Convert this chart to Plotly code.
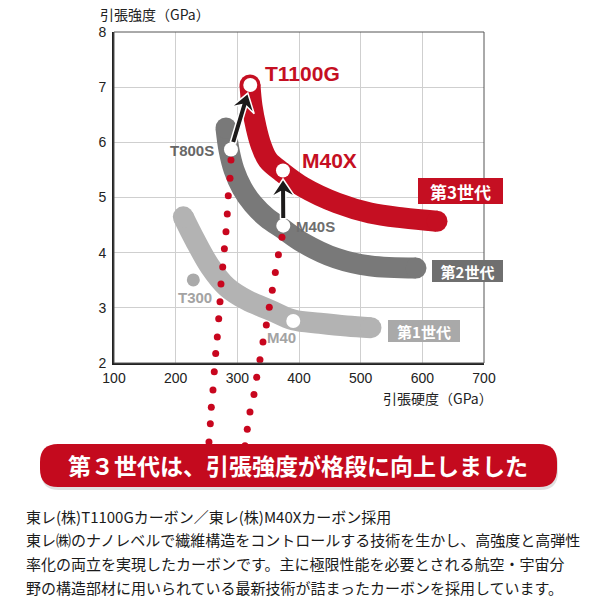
import math
import plotly.graph_objects as go

# ---------------- data ----------------
x_ticks = [100, 200, 300, 400, 500, 600, 700]
y_ticks = [2, 3, 4, 5, 6, 7, 8]

# generation bands (tensile modulus GPa, tensile strength GPa)
gen1_modulus = [212.4, 231.3, 255.7, 282.7, 315.2, 353.0, 390.7, 433.8, 477.3, 516.7]
gen1_strength = [4.65, 4.23, 3.75, 3.38, 3.14, 2.96, 2.78, 2.72, 2.67, 2.64]
gen2_modulus = [281.6, 286.5, 294.6, 307.6, 325.4, 348.1, 374.0, 406.5, 460.0, 515.1, 589.7]
gen2_strength = [6.26, 5.86, 5.50, 5.17, 4.88, 4.63, 4.43, 4.18, 3.90, 3.76, 3.72]
gen3_modulus = [320.5, 323.8, 330.3, 338.4, 349.7, 372.4, 406.5, 461.6, 515.1, 568.6, 623.8]
gen3_strength = [7.04, 6.66, 6.28, 5.95, 5.68, 5.46, 5.19, 4.90, 4.72, 4.63, 4.57]

gen_labels = ["第1世代", "第2世代", "第3世代"]

# fibres
fiber_names = ["T1100G", "M40X", "T800S", "M40S", "M40"]
fiber_modulus = [321.0, 374.0, 289.7, 374.5, 390.7]
fiber_strength = [7.04, 5.49, 5.87, 4.49, 2.76]
t300_modulus = [228.6]
t300_strength = [3.505]

# red dotted drop lines (continue below the chart, behind the banner)
drop1_modulus = [289.7, 288.1, 285.3, 283.7, 281.6, 279.0, 276.3, 273.5, 271.9, 269.8,
                 267.5, 264.9, 262.6, 260.5, 257.8, 256.2, 254.0]
drop1_strength = [5.68, 5.35, 5.03, 4.70, 4.38, 4.07, 3.74, 3.43, 3.11, 2.80,
                  2.47, 2.17, 1.84, 1.51, 1.20, 0.90, 0.57]
drop2_modulus = [372.4, 366.6, 361.6, 356.7, 351.8, 347.0, 341.6, 336.7, 331.4, 327.0,
                 320.5, 316.1, 312.4]
drop2_strength = [4.28, 3.96, 3.64, 3.32, 3.01, 2.69, 2.38, 2.06, 1.74, 1.43,
                  1.11, 0.80, 0.50]

banner_text = "第３世代は、引張強度が格段に向上しました"
body_lines = [
    "東レ(株)T1100Gカーボン／東レ(株)M40Xカーボン採用",
    "東レ㈱のナノレベルで繊維構造をコントロールする技術を生かし、高強度と高弾性",
    "率化の両立を実現したカーボンです。主に極限性能を必要とされる航空・宇宙分",
    "野の構造部材に用いられている最新技術が詰まったカーボンを採用しています。",
]

# ---------------- styling ----------------
RED = "#c50f22"
GRAY2 = "#797979"
GRAY1 = "#b3b3b3"
CJK = "Noto Sans CJK JP"
LAT = "Liberation Sans, Arial, sans-serif"

W = H = 600
ML, MR, MT = 114, 116, 32
AX_BOTTOM = 363          # pixel row of the x axis (strength = 2)
FULL_BOTTOM = 450        # bottom of the full plotting area (dots continue there)
MB = H - FULL_BOTTOM
PW = W - ML - MR
PH_MAIN = AX_BOTTOM - MT
PH_FULL = FULL_BOTTOM - MT
X0, X1, Y0, Y1 = 100, 700, 2, 8
Y_FULL_LOW = Y1 - (Y1 - Y0) * PH_FULL / PH_MAIN


def to_px(x, y):
    return ML + (x - X0) / (X1 - X0) * PW, MT + (Y1 - y) / (Y1 - Y0) * PH_MAIN


def to_paper(px, py):
    return (px - ML) / PW, (FULL_BOTTOM - py) / PH_FULL


BAND_W = 21

fig = go.Figure()

for xs, ys, col in [(gen1_modulus, gen1_strength, GRAY1),
                    (gen2_modulus, gen2_strength, GRAY2),
                    (gen3_modulus, gen3_strength, RED)]:
    fig.add_trace(go.Scatter(x=xs, y=ys, mode="lines",
                             line=dict(color=col, width=BAND_W, shape="spline", smoothing=1.0),
                             hoverinfo="skip"))
    fig.add_trace(go.Scatter(x=[xs[0], xs[-1]], y=[ys[0], ys[-1]], mode="markers",
                             marker=dict(color=col, size=BAND_W, line=dict(width=0)),
                             hoverinfo="skip"))

for xs, ys in [(drop1_modulus, drop1_strength), (drop2_modulus, drop2_strength)]:
    fig.add_trace(go.Scatter(x=xs, y=ys, mode="markers", xaxis="x2", yaxis="y2",
                             cliponaxis=False,
                             marker=dict(color="#c8061e", size=7, line=dict(width=0)),
                             hoverinfo="skip"))

fig.add_trace(go.Scatter(x=t300_modulus, y=t300_strength, mode="markers",
                         marker=dict(color="#aaaaaa", size=13, line=dict(width=0))))
fig.add_trace(go.Scatter(x=fiber_modulus, y=fiber_strength, mode="markers",
                         xaxis="x2", yaxis="y2",
                         marker=dict(color="white", size=14, line=dict(width=0))))

shapes = []
# plot frame (thin top / right border)
shapes.append(dict(type="rect", xref="x domain", yref="y domain", x0=0, y0=0, x1=1, y1=1,
                   line=dict(color="#555555", width=1), layer="above"))


def arrow_path(p_from, p_to, gap0, gap1, shaft=5.5, hl=18, hw=24, notch=5):
    ax, ay = to_px(*p_from)
    bx, by = to_px(*p_to)
    dx, dy = bx - ax, by - ay
    L = math.hypot(dx, dy)
    ux, uy = dx / L, dy / L
    nx, ny = -uy, ux
    tx, ty = ax + ux * gap0, ay + uy * gap0
    qx, qy = bx - ux * gap1, by - uy * gap1
    hbx, hby = qx - ux * hl, qy - uy * hl
    ncx, ncy = qx - ux * (hl - notch), qy - uy * (hl - notch)
    pts = [(tx + nx * shaft / 2, ty + ny * shaft / 2),
           (ncx + nx * shaft / 2, ncy + ny * shaft / 2),
           (hbx + nx * hw / 2, hby + ny * hw / 2),
           (qx, qy),
           (hbx - nx * hw / 2, hby - ny * hw / 2),
           (ncx - nx * shaft / 2, ncy - ny * shaft / 2),
           (tx - nx * shaft / 2, ty - ny * shaft / 2)]
    conv = [to_paper(*p) for p in pts]
    return "M " + " L ".join(f"{x:.5f},{y:.5f}" for x, y in conv) + " Z"


idx = {n: i for i, n in enumerate(fiber_names)}
for a, b in [("T800S", "T1100G"), ("M40S", "M40X")]:
    pa_ = (fiber_modulus[idx[a]], fiber_strength[idx[a]])
    pb_ = (fiber_modulus[idx[b]], fiber_strength[idx[b]])
    shapes.append(dict(type="path", path=arrow_path(pa_, pb_, 7, 8.5), xref="paper", yref="paper",
                       fillcolor="#1c1a1a", line=dict(color="white", width=1.5), layer="above"))


def rounded_rect(x0, y0, x1, y1, r):
    def P(px, py):
        X, Y = to_paper(px, py)
        return f"{X:.5f},{Y:.5f}"
    return (f"M {P(x0 + r, y0)} L {P(x1 - r, y0)} Q {P(x1, y0)} {P(x1, y0 + r)} "
            f"L {P(x1, y1 - r)} Q {P(x1, y1)} {P(x1 - r, y1)} L {P(x0 + r, y1)} "
            f"Q {P(x0, y1)} {P(x0, y1 - r)} L {P(x0, y0 + r)} Q {P(x0, y0)} {P(x0 + r, y0)} Z")


shapes.append(dict(type="path", path=rounded_rect(41, 446, 558, 490, 18), xref="paper", yref="paper",
                   fillcolor="rgba(0,0,0,0.12)", line=dict(width=0), layer="above"))
shapes.append(dict(type="path", path=rounded_rect(40, 444, 557, 487, 18), xref="paper", yref="paper",
                   fillcolor="#c40a1e", line=dict(width=0), layer="above"))

ann = []


def add_label(text, px, py, color, size, anchor="center"):
    X, Y = to_paper(px, py)
    ann.append(dict(text=f"<b>{text}</b>", x=X, y=Y, xref="paper", yref="paper", showarrow=False,
                    xanchor=anchor, yanchor="middle", font=dict(family=LAT, size=size, color=color)))


add_label(fiber_names[0], 302, 74, RED, 21)
add_label(fiber_names[1], 329, 160, RED, 21)
add_label(fiber_names[2], 216, 150, "#676767", 15, "right")
add_label(fiber_names[3], 294, 226, "#6e6e6e", 15, "left")
add_label("T300", 194.5, 297, "#a3a3a3", 15)
add_label(fiber_names[4], 281, 337.5, "#a3a3a3", 15)

# generation boxes
for text, (x0, y0, x1, y1), col, fs in [
        (gen_labels[2], (418, 178, 503, 204), RED, 17),
        (gen_labels[1], (432, 260, 503, 282), "#6f6f6f", 15),
        (gen_labels[0], (388, 320, 460, 342), "#a9a9a9", 15)]:
    X, Y = to_paper((x0 + x1) / 2, (y0 + y1) / 2)
    ann.append(dict(text=f"<b>{text}</b>", x=X, y=Y, xref="paper", yref="paper", showarrow=False,
                    xanchor="center", yanchor="middle", bgcolor=col, width=x1 - x0 - 2,
                    height=y1 - y0 - 2, borderpad=0, borderwidth=1, bordercolor=col,
                    font=dict(family=CJK, size=fs, color="white")))

# axis titles
X, Y = to_paper(98, 14)
ann.append(dict(text="引張強度（GPa）", x=X, y=Y, xref="paper", yref="paper", showarrow=False,
                xanchor="left", yanchor="middle", font=dict(family=CJK, size=14, color="#222")))
X, Y = to_paper(495, 398)
ann.append(dict(text="引張硬度（GPa）", x=X, y=Y, xref="paper", yref="paper", showarrow=False,
                xanchor="right", yanchor="middle", font=dict(family=CJK, size=14, color="#222")))

# banner text
X, Y = to_paper(298, 465)
ann.append(dict(text=f"<b>{banner_text}</b>", x=X, y=Y, xref="paper", yref="paper", showarrow=False,
                xanchor="center", yanchor="middle", font=dict(family=CJK, size=23, color="white")))

# body text
for i, line in enumerate(body_lines):
    X, Y = to_paper(24, 516 + i * 23.7)
    ann.append(dict(text=line, x=X, y=Y, xref="paper", yref="paper", showarrow=False,
                    xanchor="left", yanchor="middle", font=dict(family=CJK, size=15, color="#1a1a1a")))

axis_common = dict(showgrid=True, gridcolor="#cfcfcf", gridwidth=1, zeroline=False,
                   showline=True, linecolor="#222", linewidth=2, ticks="",
                   tickfont=dict(family=LAT, size=14, color="#222"), fixedrange=True)

y_domain_low = (FULL_BOTTOM - AX_BOTTOM) / PH_FULL

fig.update_layout(
    width=W, height=H, margin=dict(l=ML, r=MR, t=MT, b=MB, pad=0),
    paper_bgcolor="white", plot_bgcolor="rgba(0,0,0,0)", showlegend=False,
    xaxis=dict(range=[X0, X1], tickvals=x_ticks, ticklabelstandoff=1, anchor="y", **axis_common),
    yaxis=dict(range=[Y0, Y1], tickvals=y_ticks, ticklabelstandoff=3, anchor="x",
               domain=[y_domain_low, 1], **axis_common),
    xaxis2=dict(range=[X0, X1], domain=[0, 1], anchor="y2", visible=False, fixedrange=True),
    yaxis2=dict(range=[Y_FULL_LOW, Y1], domain=[0, 1], anchor="x2", visible=False, fixedrange=True),
    shapes=shapes, annotations=ann, hovermode=False,
)

fig.write_html("out.html")
